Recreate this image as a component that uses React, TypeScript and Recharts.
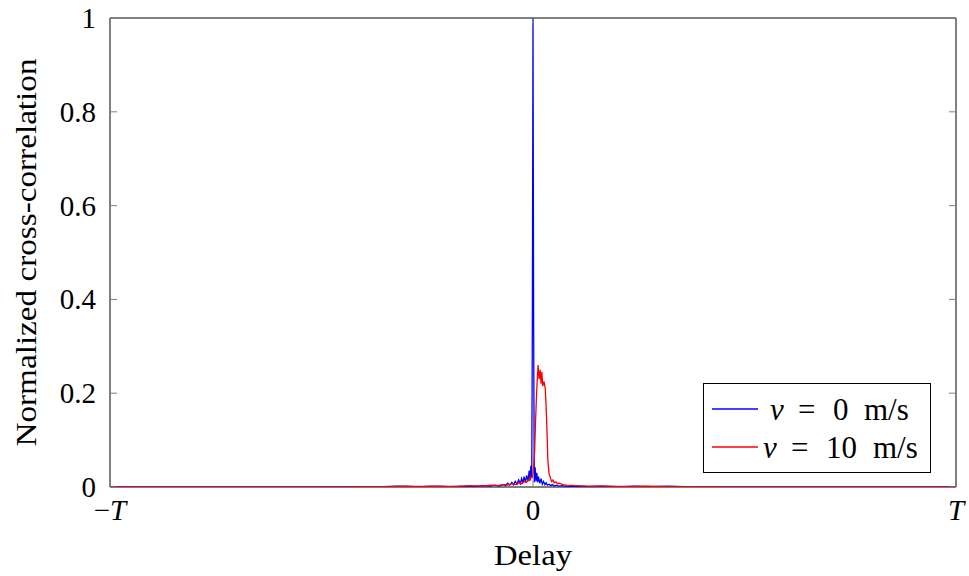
import { LineChart, Line, XAxis, YAxis, ReferenceArea } from "recharts";

// delay in units of T, value = normalized cross-correlation
const delayStill = [
  -1, -0.5, -0.36, -0.32, -0.28, -0.24, -0.2, -0.17, -0.14, -0.12, -0.1, -0.09, -0.08, -0.07,
  -0.065, -0.06, -0.055, -0.05, -0.046, -0.042, -0.038, -0.034, -0.03, -0.027, -0.024, -0.021,
  -0.018, -0.015, -0.012, -0.009, -0.007, -0.005, -0.003, -0.0015, 0, 0.0015, 0.003, 0.005,
  0.007, 0.009, 0.011, 0.013, 0.016, 0.019, 0.022, 0.025, 0.028, 0.031, 0.034, 0.038, 0.042,
  0.046, 0.05, 0.055, 0.06, 0.07, 0.08, 0.1, 0.13, 0.16, 0.2, 0.24, 0.28, 0.32, 0.36, 0.4, 0.5, 1,
];
const corrStill = [
  0, 0, 0.001, 0.002, 0.001, 0.002, 0.001, 0.002, 0.001, 0.003, 0.002, 0.004, 0.002, 0.005,
  0.003, 0.008, 0.004, 0.01, 0.005, 0.012, 0.006, 0.015, 0.007, 0.018, 0.009, 0.022,
  0.01, 0.025, 0.012, 0.035, 0.014, 0.045, 0.02, 0.35, 1, 0.35, 0.01, 0.042,
  0.012, 0.03, 0.01, 0.022, 0.008, 0.018, 0.006, 0.012, 0.005, 0.009, 0.004, 0.006, 0.003,
  0.005, 0.002, 0.004, 0.002, 0.003, 0.001, 0.002, 0.001, 0.002, 0.001, 0.002, 0.001, 0.002, 0.001, 0, 0, 0,
];

const delayMoving = [
  -1, -0.45, -0.34, -0.3, -0.26, -0.22, -0.18, -0.15, -0.12, -0.1, -0.085, -0.07, -0.06, -0.05,
  -0.04, -0.033, -0.026, -0.02, -0.015, -0.011, -0.008, -0.005, -0.002, 0, 0.002, 0.004, 0.006,
  0.0085, 0.012, 0.0145, 0.017, 0.019, 0.021, 0.023, 0.026, 0.029, 0.032, 0.035, 0.038, 0.041,
  0.044, 0.047, 0.05, 0.054, 0.058, 0.063, 0.07, 0.08, 0.1, 0.13, 0.17, 0.22, 0.27, 0.32, 0.37, 0.45, 1,
];
const corrMoving = [
  0, 0, 0.001, 0.002, 0.001, 0.002, 0.001, 0.003, 0.002, 0.004, 0.003, 0.005, 0.004, 0.007,
  0.005, 0.009, 0.007, 0.012, 0.01, 0.016, 0.014, 0.022, 0.02, 0.03, 0.05, 0.08, 0.14,
  0.2, 0.26, 0.23, 0.25, 0.22, 0.245, 0.215, 0.225, 0.21, 0.15, 0.06, 0.028, 0.02,
  0.012, 0.015, 0.009, 0.011, 0.007, 0.008, 0.005, 0.004, 0.003, 0.002, 0.002, 0.001, 0.002, 0.001, 0.001, 0, 0,
];

const yTicks = [0, 0.2, 0.4, 0.6, 0.8, 1];
const yTickLabels = ["0", "0.2", "0.4", "0.6", "0.8", "1"];
const xTicks = [-1, 0, 1];
const xTickLabels = ["−T", "0", "T"];
const seriesSpeeds = ["0", "10"];
const seriesColors = ["#0000ff", "#ff0000"];

const stillData = delayStill.map((d, i) => ({ d, v: corrStill[i] }));
const movingData = delayMoving.map((d, i) => ({ d, v: corrMoving[i] }));

const FONT = "'Liberation Serif', 'DejaVu Serif', serif";
const PLOT_W = 846;
const PLOT_H = 469;

function YTick(props: any) {
  const { x, y, payload } = props;
  const idx = yTicks.indexOf(payload.value);
  return (
    <g>
      <line x1={x} x2={x + 7} y1={y} y2={y} stroke="#808080" strokeWidth={1} />
      <line x1={x + PLOT_W - 7} x2={x + PLOT_W} y1={y} y2={y} stroke="#808080" strokeWidth={1} />
      <text x={x - 14} y={y + 10} textAnchor="end" fontSize={29} fontFamily={FONT} fill="#000">
        {yTickLabels[idx]}
      </text>
    </g>
  );
}

function XTick(props: any) {
  const { x, y, payload } = props;
  const idx = xTicks.indexOf(payload.value);
  const label = xTickLabels[idx];
  return (
    <g>
      <line x1={x} x2={x} y1={y - 7} y2={y} stroke="#808080" strokeWidth={1} />
      <line x1={x} x2={x} y1={y - PLOT_H} y2={y - PLOT_H + 7} stroke="#808080" strokeWidth={1} />
      <text x={x} y={y + 33} textAnchor="middle" fontSize={29} fontFamily={FONT} fill="#000">
        {label.startsWith("−") ? <tspan>−</tspan> : null}
        {label === "0" ? "0" : <tspan fontStyle="italic">T</tspan>}
      </text>
    </g>
  );
}

function XLabel(props: any) {
  const { viewBox } = props;
  const cx = viewBox.x + viewBox.width / 2;
  return (
    <text x={cx} y={565} textAnchor="middle" fontSize={29} fontFamily={FONT} fill="#000" textLength={78} lengthAdjust="spacingAndGlyphs">
      Delay
    </text>
  );
}

function YLabel(props: any) {
  const { viewBox } = props;
  const cy = viewBox.y + viewBox.height / 2;
  return (
    <text
      x={36}
      y={cy}
      transform={`rotate(-90 36 ${cy})`}
      textAnchor="middle"
      fontSize={29}
      fontFamily={FONT}
      fill="#000"
      textLength={388}
      lengthAdjust="spacingAndGlyphs"
    >
      Normalized cross-correlation
    </text>
  );
}

function LegendBox() {
  // legend frame at (703,383), 228x90
  const rows = [
    { y: 26, v: 67, eq: 95, num: 130, unit: 161 },
    { y: 64, v: 60, eq: 88, num: 123, unit: 170 },
  ];
  return (
    <svg width={228} height={91} style={{ position: "absolute", left: 703, top: 383 }}>
      <rect x={0.5} y={0.5} width={227} height={89} fill="#fff" stroke="#000" strokeWidth={1} />
      {rows.map((r, i) => (
        <g key={i}>
          <line x1={9} x2={55} y1={r.y} y2={r.y} stroke={seriesColors[i]} strokeWidth={1.3} />
          <text y={r.y + 11} fontSize={31} fontFamily={FONT} fill="#000">
            <tspan x={r.v} fontStyle="italic">v</tspan>
            <tspan x={r.eq}>=</tspan>
            <tspan x={r.num}>{seriesSpeeds[i]}</tspan>
            <tspan x={r.unit}>m/s</tspan>
          </text>
        </g>
      ))}
    </svg>
  );
}

export default function App() {
  return (
    <div style={{ position: "absolute", left: 0, top: 0, width: 969, height: 576, background: "#fff" }}>
      <LineChart width={969} height={576} margin={{ top: 18, right: 13, left: 50, bottom: 49 }}>
        <XAxis
          dataKey="d"
          type="number"
          domain={[-1, 1]}
          ticks={xTicks}
          allowDataOverflow
          height={40}
          axisLine={false}
          tickLine={false}
          tickSize={0}
          tickMargin={0}
          tick={<XTick />}
          interval={0}
          label={{ content: <XLabel /> }}
        />
        <YAxis
          type="number"
          domain={[0, 1]}
          ticks={yTicks}
          allowDataOverflow
          width={60}
          axisLine={false}
          tickLine={false}
          tickSize={0}
          tickMargin={0}
          tick={<YTick />}
          interval={0}
          label={{ content: <YLabel /> }}
        />
        <ReferenceArea x1={-1} x2={1} y1={0} y2={1} fill="none" stroke="#000" strokeWidth={1} />
        <Line
          data={stillData}
          dataKey="v"
          type="linear"
          stroke={seriesColors[0]}
          strokeWidth={1.3}
          dot={false}
          isAnimationActive={false}
          name="v = 0 m/s"
        />
        <Line
          data={movingData}
          dataKey="v"
          type="linear"
          stroke={seriesColors[1]}
          strokeWidth={1.3}
          dot={false}
          isAnimationActive={false}
          name="v = 10 m/s"
        />
      </LineChart>
      <LegendBox />
    </div>
  );
}
